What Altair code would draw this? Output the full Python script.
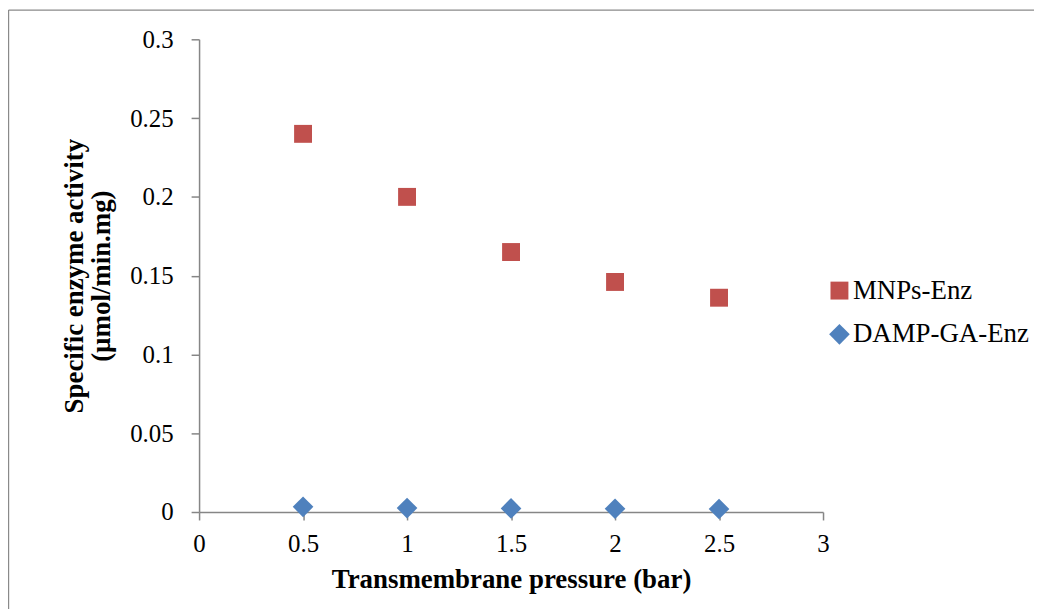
import altair as alt
import pandas as pd

# Data
pressure = [0.5, 1.0, 1.5, 2.0, 2.5]
mnps_enz = [0.240, 0.200, 0.165, 0.146, 0.136]
damp_ga_enz = [0.0033, 0.0025, 0.0023, 0.0021, 0.0019]
series_names = ["MNPs-Enz", "DAMP-GA-Enz"]
series_colors = ["#C0504D", "#4F81BD"]
series_shapes = ["square", "diamond"]
x_ticks = [0, 0.5, 1, 1.5, 2, 2.5, 3]
y_ticks = [0, 0.05, 0.1, 0.15, 0.2, 0.25, 0.3]

rows = []
for p, v in zip(pressure, mnps_enz):
    rows.append({"pressure": p, "activity": v, "series": series_names[0]})
for p, v in zip(pressure, damp_ga_enz):
    rows.append({"pressure": p, "activity": v, "series": series_names[1]})
df = pd.DataFrame(rows)

FONT = "Liberation Serif"
AXIS_GRAY = "#868686"

leg = alt.Legend(
    title=None,
    orient="none",
    legendX=630,
    legendY=239,
    symbolSize=324,
    symbolStrokeWidth=0,
    labelFont=FONT,
    labelFontSize=27,
    labelColor="black",
    labelOffset=0,
    labelLimit=400,
    rowPadding=16,
    symbolOpacity=1,
)

points = alt.Chart(df).mark_point(filled=True, opacity=1, strokeWidth=0).encode(
    x=alt.X(
        "pressure:Q",
        scale=alt.Scale(domain=[0, 3], nice=False, zero=False),
        axis=alt.Axis(
            values=x_ticks,
            format="~g",
            title="Transmembrane pressure (bar)",
            labelFont=FONT,
            labelFontSize=25,
            labelColor="black",
            labelPadding=12,
            labelFlush=False,
            titleFont=FONT,
            titleFontSize=27,
            titleFontWeight="bold",
            titleColor="black",
            titlePadding=10,
        ),
    ),
    y=alt.Y(
        "activity:Q",
        scale=alt.Scale(domain=[0, 0.3], nice=False),
        axis=alt.Axis(
            values=y_ticks,
            format="~g",
            title=["Specific enzyme activity", "(µmol/min.mg)"],
            labelFont=FONT,
            labelFontSize=25,
            labelColor="black",
            labelPadding=18,
            labelFlush=False,
            titleFont=FONT,
            titleFontSize=27,
            titleFontWeight="bold",
            titleColor="black",
            titlePadding=14,
            titleLineHeight=27,
        ),
    ),
    color=alt.Color(
        "series:N",
        scale=alt.Scale(domain=series_names, range=series_colors),
        legend=leg,
    ),
    shape=alt.Shape(
        "series:N",
        scale=alt.Scale(domain=series_names, range=series_shapes),
        legend=leg,
    ),
    size=alt.Size(
        "series:N",
        scale=alt.Scale(domain=series_names, range=[324, 430]),
        legend=None,
    ),
)

frame_df = pd.DataFrame({"a": [0]})
frame_top = alt.Chart(frame_df).mark_rule(color="#8a8a8a", strokeWidth=1.2).encode(
    x=alt.value(-191.4), x2=alt.value(1000), y=alt.value(-29.4), y2=alt.value(-29.4)
)
frame_left = alt.Chart(frame_df).mark_rule(color="#8a8a8a", strokeWidth=1.2).encode(
    x=alt.value(-191.4), x2=alt.value(-191.4), y=alt.value(-29.4), y2=alt.value(700)
)

chart = (
    alt.layer(frame_top, frame_left, points)
    .properties(
        width=627,
        height=475,
        autosize=alt.AutoSizeParams(type="none"),
        padding={"left": 192, "top": 30, "right": 212, "bottom": 96},
    )
    .configure_view(stroke=None)
    .configure_axis(
        grid=False,
        domainColor=AXIS_GRAY,
        domainWidth=1.5,
        tickColor=AXIS_GRAY,
        tickWidth=1.5,
        tickSize=8,
    )
)

chart.save("out.html", embed_options={"renderer": "svg", "actions": False})
